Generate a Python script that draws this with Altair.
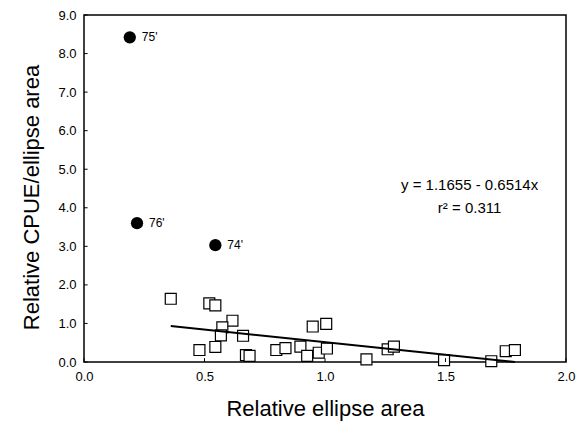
import altair as alt
import pandas as pd

# Open squares (regression data)
sq_x = [0.36, 0.52, 0.545, 0.616, 0.574, 0.568, 0.66, 0.479, 0.545, 0.672, 0.687,
        0.798, 0.836, 0.898, 0.926, 0.949, 1.005, 0.974, 1.008, 1.172, 1.26, 1.286,
        1.494, 1.69, 1.75, 1.788]
sq_y = [1.64, 1.52, 1.47, 1.07, 0.90, 0.69, 0.68, 0.31, 0.39, 0.18, 0.16,
        0.31, 0.36, 0.40, 0.16, 0.92, 0.99, 0.24, 0.35, 0.07, 0.33, 0.40,
        0.05, 0.02, 0.28, 0.31]

# Filled circles (outlier years)
pt_x = [0.19, 0.22, 0.545]
pt_y = [8.42, 3.6, 3.03]
pt_lab = ["75'", "76'", "74'"]

# Regression line
intercept = 1.1655
slope = -0.6514
line_x = [0.36, 1.788]

eq_lines = ["y = 1.1655 - 0.6514x", "r\u00b2 = 0.311"]
eq_x = [1.6, 1.6]
eq_y = [4.59, 3.99]

x_ticks = [0.0, 0.5, 1.0, 1.5, 2.0]
y_ticks = [0, 1, 2, 3, 4, 5, 6, 7, 8, 9]

FONT = "Liberation Sans"

sq_df = pd.DataFrame({"x": sq_x, "y": sq_y})
pt_df = pd.DataFrame({"x": pt_x, "y": pt_y, "label": pt_lab})
line_df = pd.DataFrame({"x": line_x, "y": [intercept + slope * v for v in line_x]})
eq_df = pd.DataFrame({"x": eq_x, "y": eq_y, "t": eq_lines})
xt_df = pd.DataFrame({"x": x_ticks, "y": [0.0] * 5, "y1": [0.1] * 5})
yt_df = pd.DataFrame({"y": y_ticks, "x": [0.0] * 10, "x1": [0.015] * 10})

xs = alt.Scale(domain=[0, 2], nice=False, zero=False)
ys = alt.Scale(domain=[0, 9], nice=False, zero=False)

common = dict(ticks=False, grid=False, domain=False, labelPadding=8,
              labelFlush=False, labelOverlap=False,
              labelFont=FONT, labelFontSize=13, labelColor="black",
              titleFont=FONT, titleFontSize=22, titleFontWeight="normal",
              titleColor="black")
xaxis = alt.Axis(title="Relative ellipse area", values=x_ticks, format=".1f",
                 titlePadding=15, **common)
yaxis = alt.Axis(title="Relative CPUE/ellipse area", values=y_ticks, format=".1f",
                 titlePadding=14, titleY=182, **common)

X = alt.X("x:Q", scale=xs, axis=xaxis)
Y = alt.Y("y:Q", scale=ys, axis=yaxis)

base_sq = alt.Chart(sq_df).mark_point(
    shape="square", filled=True, fill="white", stroke="black", strokeWidth=1.2,
    size=120, opacity=1
).encode(x=X, y=Y)

line = alt.Chart(line_df).mark_line(color="black", strokeWidth=2).encode(x=X, y=Y)

pts = alt.Chart(pt_df).mark_circle(color="black", size=150, opacity=1).encode(x=X, y=Y)

pt_text = alt.Chart(pt_df).mark_text(align="left", baseline="middle", dx=12,
                                     font=FONT, fontSize=12, color="black").encode(
    x=X, y=Y, text="label:N")

eq_text = alt.Chart(eq_df).mark_text(align="center", baseline="middle",
                                     font=FONT, fontSize=15, color="black").encode(
    x=X, y=Y, text="t:N")

xt = alt.Chart(xt_df).mark_rule(color="black", strokeWidth=1).encode(
    x=X, y=Y, y2="y1:Q")
yt = alt.Chart(yt_df).mark_rule(color="black", strokeWidth=1).encode(
    y=Y, x=X, x2="x1:Q")

chart = alt.layer(base_sq, xt, yt, line, pts, pt_text, eq_text).properties(
    width=482, height=347,
    padding={"left": 84, "top": 15, "right": 16, "bottom": 66},
    autosize=alt.AutoSizeParams(type="none"),
    background="white",
).configure_view(stroke="black", strokeWidth=1.5)

chart.save("out.html", embed_options={"renderer": "svg", "actions": False})
